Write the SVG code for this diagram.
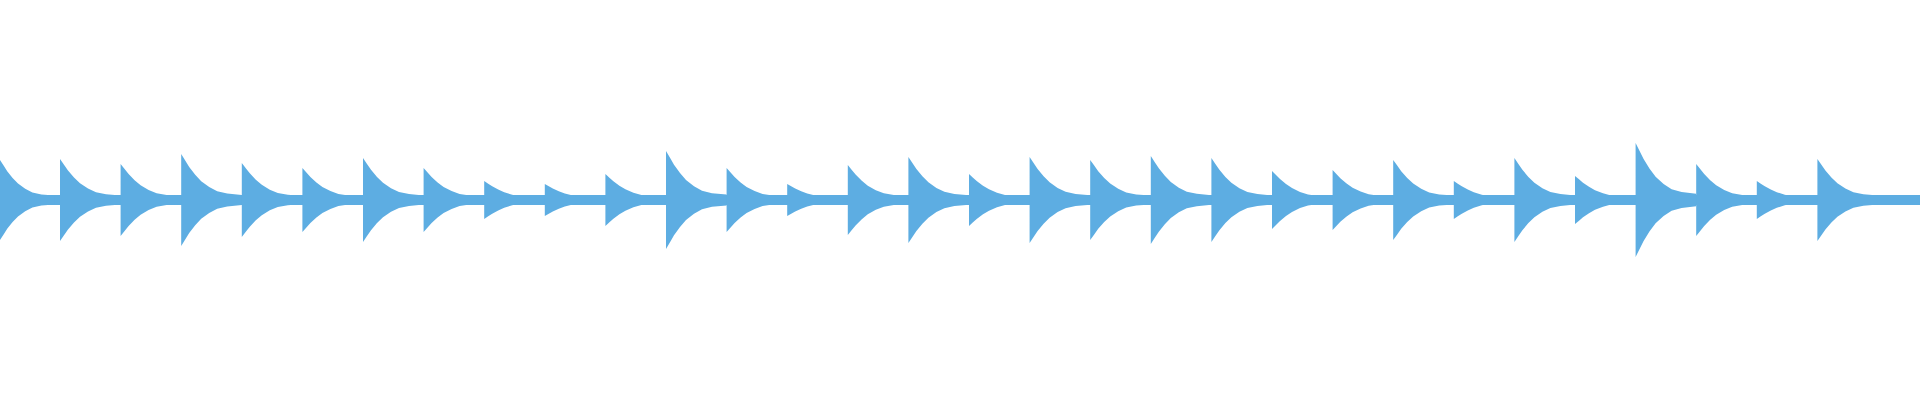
<svg xmlns="http://www.w3.org/2000/svg" xmlns:xlink="http://www.w3.org/1999/xlink" width="1920" height="400" viewBox="0 0 1920 400">
<defs>
<style>.w{fill:#5dade2}</style>
<path id="b" class="w" d="M0,-100 L4,-86 L8,-72 L14,-55 L20,-41 L28,-28 L36,-19 L46,-14 L60.6,-11 L60.6,11 L46,14 L36,19 L28,28 L20,41 L14,55 L8,72 L4,86 L0,100 Z"/>
</defs>
<rect width="1920" height="400" fill="#fff"/>
<g id="wave">
<rect class="w" x="0" y="195" width="1920" height="10"/>
<use xlink:href="#b" transform="translate(0,200) scale(0.9,0.4)"/>
<use xlink:href="#b" transform="translate(60,200) scale(1,0.41)"/>
<use xlink:href="#b" transform="translate(120.6,200) scale(1,0.36)"/>
<use xlink:href="#b" transform="translate(181.2,200) scale(1,0.46)"/>
<use xlink:href="#b" transform="translate(241.8,200) scale(1,0.37)"/>
<use xlink:href="#b" transform="translate(302.4,200) scale(1,0.32)"/>
<use xlink:href="#b" transform="translate(363,200) scale(1,0.42)"/>
<use xlink:href="#b" transform="translate(423.6,200) scale(1,0.32)"/>
<use xlink:href="#b" transform="translate(484.2,200) scale(1,0.19)"/>
<use xlink:href="#b" transform="translate(544.8,200) scale(1,0.16)"/>
<use xlink:href="#b" transform="translate(605.4,200) scale(1,0.26)"/>
<use xlink:href="#b" transform="translate(666,200) scale(1,0.49)"/>
<use xlink:href="#b" transform="translate(726.6,200) scale(1,0.32)"/>
<use xlink:href="#b" transform="translate(787.2,200) scale(1,0.16)"/>
<use xlink:href="#b" transform="translate(847.8,200) scale(1,0.35)"/>
<use xlink:href="#b" transform="translate(908.4,200) scale(1,0.43)"/>
<use xlink:href="#b" transform="translate(969,200) scale(1,0.26)"/>
<use xlink:href="#b" transform="translate(1029.6,200) scale(1,0.43)"/>
<use xlink:href="#b" transform="translate(1090.2,200) scale(1,0.4)"/>
<use xlink:href="#b" transform="translate(1150.8,200) scale(1,0.44)"/>
<use xlink:href="#b" transform="translate(1211.4,200) scale(1,0.42)"/>
<use xlink:href="#b" transform="translate(1272,200) scale(1,0.29)"/>
<use xlink:href="#b" transform="translate(1332.6,200) scale(1,0.3)"/>
<use xlink:href="#b" transform="translate(1393.2,200) scale(1,0.4)"/>
<use xlink:href="#b" transform="translate(1453.8,200) scale(1,0.19)"/>
<use xlink:href="#b" transform="translate(1514.4,200) scale(1,0.42)"/>
<use xlink:href="#b" transform="translate(1575,200) scale(1,0.24)"/>
<use xlink:href="#b" transform="translate(1635.6,200) scale(1,0.57)"/>
<use xlink:href="#b" transform="translate(1696.2,200) scale(1,0.36)"/>
<use xlink:href="#b" transform="translate(1756.8,200) scale(1,0.19)"/>
<use xlink:href="#b" transform="translate(1817.4,200) scale(1,0.41)"/>
</g>
</svg>
